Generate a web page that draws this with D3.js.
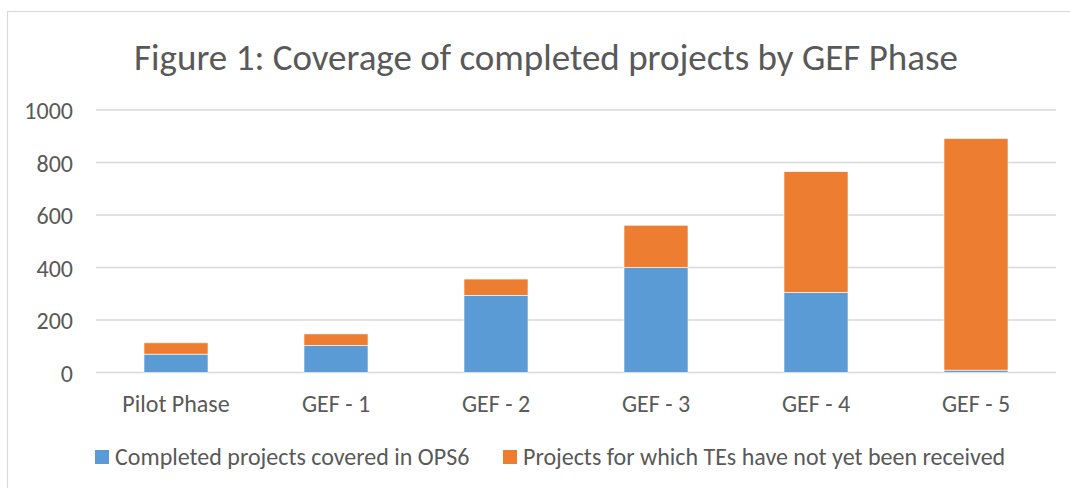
<!DOCTYPE html>
<html>
<head>
<meta charset="utf-8">
<script src="https://cdn.jsdelivr.net/npm/d3@7"></script>
<style>
  html, body { margin: 0; padding: 0; background: #fff; }
  svg text { font-family: "Carlito", "Lato", sans-serif; fill: #595959; }
</style>
</head>
<body>
<svg id="chart" width="1070" height="488"></svg>
<script>
const categories = ["Pilot Phase", "GEF - 1", "GEF - 2", "GEF - 3", "GEF - 4", "GEF - 5"];
const completedCovered = [70, 103, 294, 400, 305, 9];
const notYetReceived = [43, 44, 62, 161, 460, 882];
const yTicks = [0, 200, 400, 600, 800, 1000];
const seriesNames = ["Completed projects covered in OPS6", "Projects for which TEs have not yet been received"];
const seriesColors = ["#5B9BD5", "#ED7D31"];
const titleText = "Figure 1: Coverage of completed projects by GEF Phase";

const svg = d3.select("#chart");
svg.append("rect").attr("x", 0).attr("y", 0).attr("width", 1070).attr("height", 488).attr("fill", "#fff");
svg.append("rect").attr("x", 7.5).attr("y", 11.5).attr("width", 1200).attr("height", 600)
  .attr("fill", "none").attr("stroke", "#d9d9d9").attr("stroke-width", 1.2);

const plot = { left: 96, right: 1056, top: 110, bottom: 372.5 };

const x = d3.scaleBand().domain(categories).range([plot.left, plot.right])
  .paddingInner(0.6).paddingOuter(0.3);
const y = d3.scaleLinear().domain([0, 1000]).range([plot.bottom, plot.top]);

// gridlines
svg.append("g").selectAll("line").data(yTicks).join("line")
  .attr("x1", plot.left).attr("x2", plot.right)
  .attr("y1", d => y(d)).attr("y2", d => y(d))
  .attr("stroke", "#d9d9d9").attr("stroke-width", 1.3);

// y axis labels
const yAxis = d3.axisLeft(y).tickValues(yTicks).tickFormat(d3.format("d")).tickSize(0).tickPadding(0);
const gy = svg.append("g").attr("transform", `translate(73,0)`).call(yAxis);
gy.select(".domain").remove();
gy.selectAll("text").attr("font-size", 24).attr("fill", "#595959")
  .style("font-family", null).attr("dy", "0.36em");

// stacked data
const rows = categories.map((c, i) => ({ cat: c, a: completedCovered[i], b: notYetReceived[i] }));
const stack = d3.stack().keys(["a", "b"])(rows);

svg.append("g").selectAll("g").data(stack).join("g")
  .attr("fill", (d, i) => seriesColors[i])
  .selectAll("rect").data(d => d).join("rect")
  .attr("x", d => x(d.data.cat))
  .attr("width", x.bandwidth())
  .attr("y", d => y(d[1]))
  .attr("height", d => y(d[0]) - y(d[1]))
  .attr("stroke", "#fff").attr("stroke-width", 0.6);

// x axis labels
const xAxis = d3.axisBottom(x).tickSize(0).tickPadding(0);
const gx = svg.append("g").attr("transform", `translate(0,${plot.bottom})`).call(xAxis);
gx.select(".domain").remove();
gx.selectAll("text").attr("font-size", 24).attr("fill", "#595959")
  .attr("y", 39.5).attr("dy", 0).style("font-family", null);

// title
svg.append("text").attr("x", 546).attr("y", 70).attr("text-anchor", "middle")
  .attr("font-size", 37).text(titleText);

// legend
const legendX = [95, 503];
const lg = svg.append("g").selectAll("g").data(seriesNames).join("g")
  .attr("transform", (d, i) => `translate(${legendX[i]},450)`);
lg.append("rect").attr("width", 14).attr("height", 14).attr("fill", (d, i) => seriesColors[i]);
lg.append("text").attr("x", 20).attr("y", 14.5).attr("font-size", 24).text(d => d);
</script>
</body>
</html>
